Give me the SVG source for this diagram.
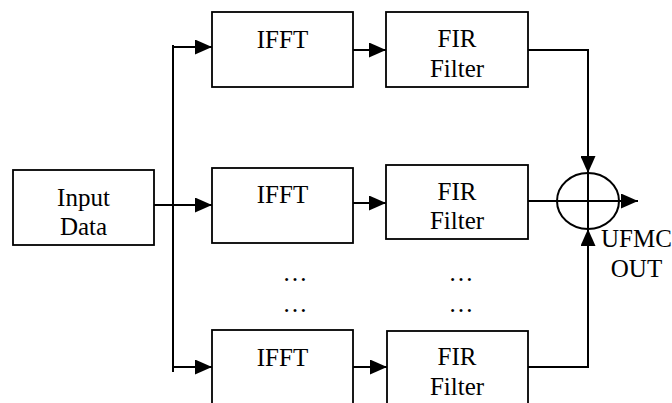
<svg xmlns="http://www.w3.org/2000/svg" width="672" height="403" viewBox="0 0 672 403">
<defs>
<style>
.box{fill:#fff;stroke:#000;stroke-width:1.8}
.ln{fill:none;stroke:#000;stroke-width:2}
text{font-family:'Liberation Serif','DejaVu Serif',serif;font-size:25px;fill:#000;text-anchor:middle}
</style>
<marker id="ah" markerUnits="userSpaceOnUse" viewBox="0 0 17 15" markerWidth="17" markerHeight="15" refX="17" refY="7.5" orient="auto">
<path d="M0,0 L17,7.5 L0,15 z" fill="#000"/>
</marker>
</defs>
<rect width="672" height="403" fill="#fff"/>
<g id="connectors">
<line class="ln" x1="173" y1="45" x2="173" y2="372"/>
<line class="ln" x1="172" y1="47" x2="212" y2="47" marker-end="url(#ah)"/>
<line class="ln" x1="154" y1="205" x2="212" y2="205" marker-end="url(#ah)"/>
<line class="ln" x1="172" y1="367" x2="212" y2="367" marker-end="url(#ah)"/>
<line class="ln" x1="353" y1="50" x2="386" y2="50" marker-end="url(#ah)"/>
<line class="ln" x1="353" y1="203" x2="386" y2="203" marker-end="url(#ah)"/>
<line class="ln" x1="353" y1="367" x2="387" y2="367" marker-end="url(#ah)"/>
<polyline class="ln" points="528,50 588,50 588,173" marker-end="url(#ah)"/>
<polyline class="ln" points="528,367 588,367 588,229" marker-end="url(#ah)"/>
<line class="ln" x1="528" y1="201" x2="638" y2="201" marker-end="url(#ah)"/>
</g>
<g id="input">
<rect class="box" x="13" y="170" width="141" height="75"/>
<text x="83.5" y="206">Input</text>
<text x="83.5" y="235">Data</text>
</g>
<g id="ifft1">
<rect class="box" x="212" y="12" width="141" height="75"/>
<text x="282.5" y="48">IFFT</text>
</g>
<g id="ifft2">
<rect class="box" x="212" y="168" width="141" height="75"/>
<text x="282.5" y="203">IFFT</text>
</g>
<g id="ifft3">
<rect class="box" x="212" y="330" width="141" height="76"/>
<text x="282.5" y="366">IFFT</text>
</g>
<g id="fir1">
<rect class="box" x="386" y="12" width="142" height="75"/>
<text x="457" y="47">FIR</text>
<text x="457" y="77">Filter</text>
</g>
<g id="fir2">
<rect class="box" x="386" y="165" width="142" height="74"/>
<text x="457" y="200">FIR</text>
<text x="457" y="229">Filter</text>
</g>
<g id="fir3">
<rect class="box" x="387" y="331" width="141" height="75"/>
<text x="457" y="365">FIR</text>
<text x="457" y="395">Filter</text>
</g>
<g id="dots">
<text x="295" y="281">…</text>
<text x="295" y="312">…</text>
<text x="461" y="281">…</text>
<text x="461" y="312">…</text>
</g>
<g id="sum">
<ellipse cx="588" cy="201" rx="31" ry="28" fill="none" stroke="#000" stroke-width="2"/>
<line class="ln" x1="588" y1="173" x2="588" y2="229"/>
</g>
<g id="out">
<text x="636.5" y="247">UFMC</text>
<text x="636.5" y="277">OUT</text>
</g>
</svg>
